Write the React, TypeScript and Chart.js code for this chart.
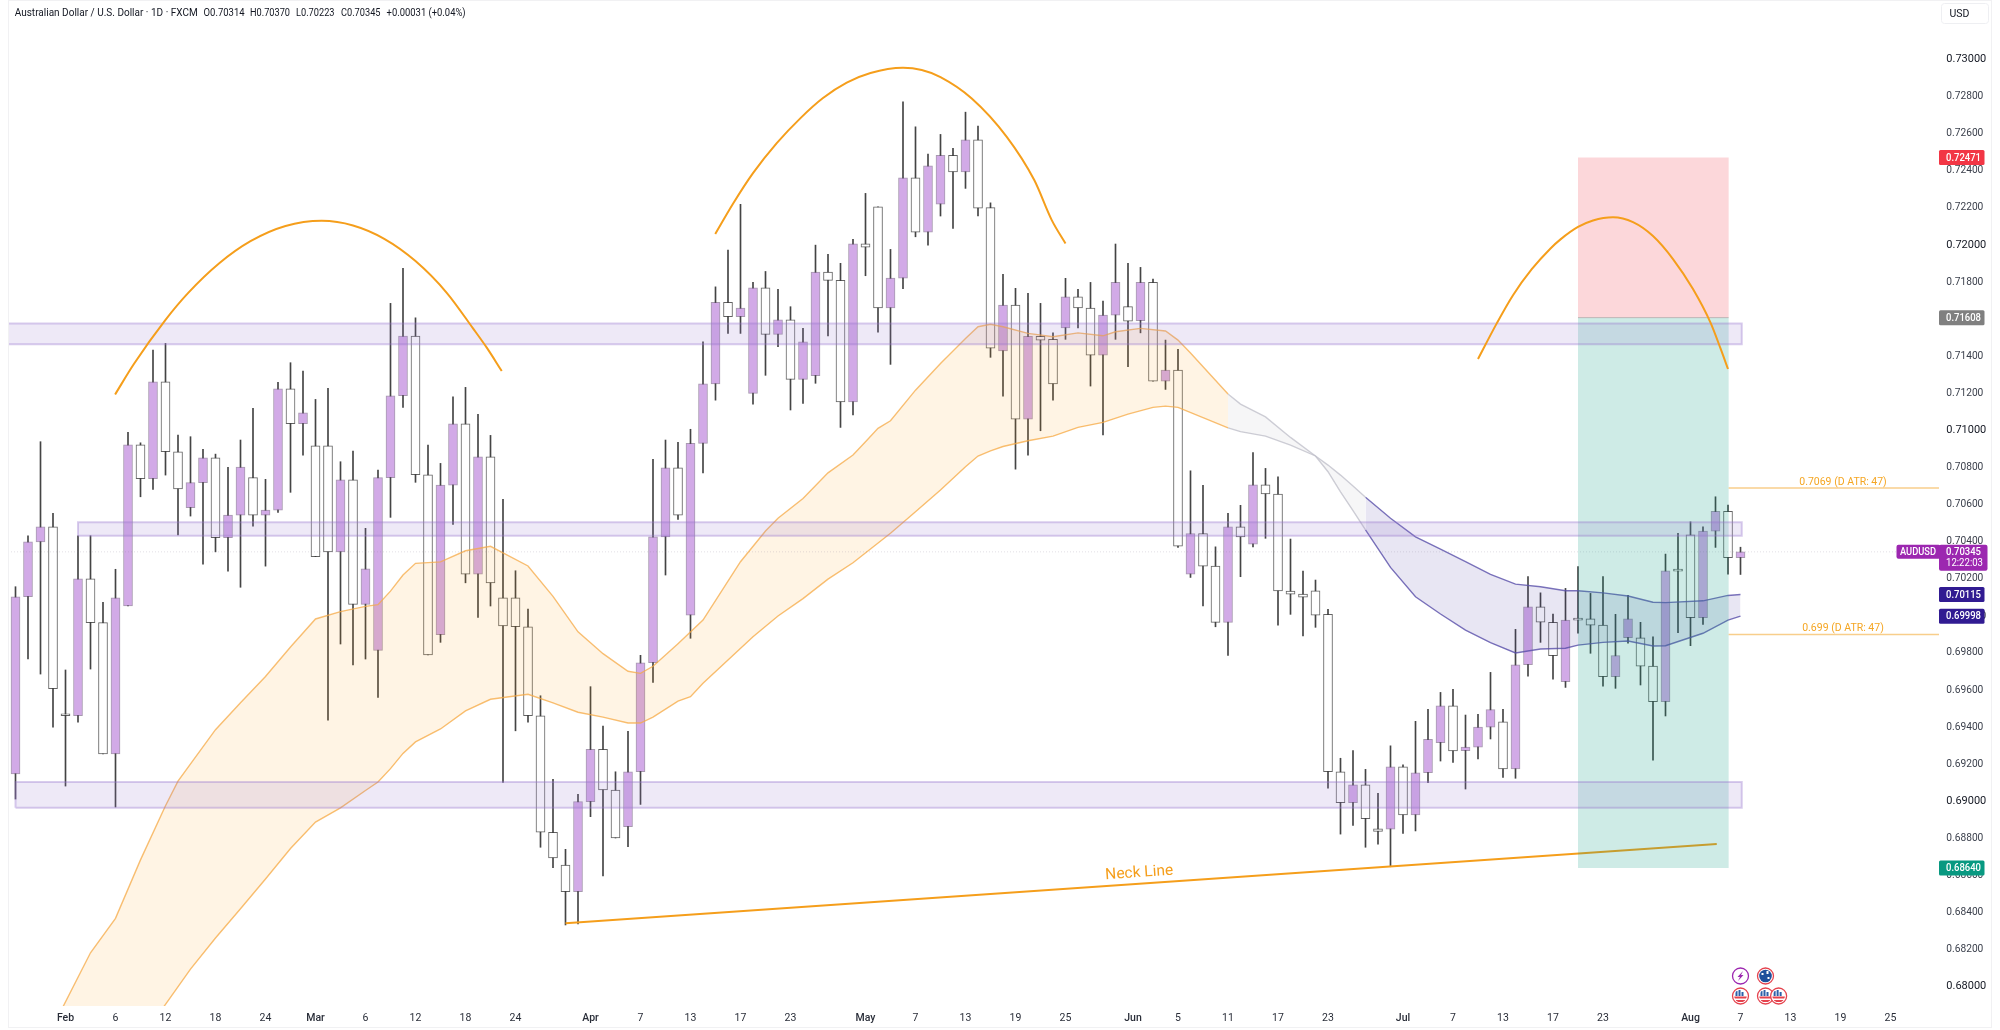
import React, { useEffect, useRef } from "react";
import { Chart, registerables } from "chart.js";

Chart.register(...registerables);

const opens = [.69147,.70103,.70399,.70480,.69461,.69461,.70200,.69963,.69255,.70054,.70922,.70739,.71262,.70885,.70583,.70718,.70852,.70421,.70543,.70745,.70543,.70570,.71224,.71036,.70917,.70917,.70344,.70734,.70062,.69814,.70745,.71187,.71509,.70761,.69898,.70705,.71036,.70224,.70858,.70097,.70097,.69941,.69461,.68833,.68656,.68512,.68998,.69280,.69061,.68863,.69159,.69747,.70426,.70798,.70004,.70930,.71251,.71690,.71613,.71200,.71769,.71518,.71596,.71275,.71295,.71854,.71809,.71154,.72006,.72206,.71661,.71821,.72362,.72069,.72220,.72483,.72394,.72567,.72201,.71429,.71676,.71061,.71507,.71491,.71552,.71720,.71660,.71406,.71622,.71667,.71591,.71798,.71266,.71325,.70224,.70443,.70268,.69965,.70480,.70387,.70707,.70657,.70134,.70117,.70135,.70008,.69159,.68992,.69089,.68852,.68850,.69186,.68927,.69154,.69316,.69515,.69273,.69292,.69400,.69429,.69174,.69736,.70049,.69965,.69645,.69985,.69984,.69950,.69672,.69882,.69882,.69729,.69537,.70248,.70437,.69990,.70457,.70563,.70314];
const closes = [.70103,.70399,.70480,.69607,.69461,.70200,.69963,.69255,.70097,.70922,.70739,.71262,.70885,.70684,.70718,.70852,.70421,.70543,.70802,.70543,.70570,.71224,.71036,.71095,.70319,.70344,.70734,.70062,.70254,.70745,.71187,.71509,.70761,.69789,.70705,.71036,.70224,.70858,.70178,.69945,.69941,.69461,.68833,.68694,.68512,.68998,.69280,.69061,.68802,.69159,.69747,.70426,.70798,.70543,.70930,.71251,.71690,.71613,.71660,.71769,.71518,.71596,.71275,.71478,.71854,.71809,.71154,.72006,.71988,.71661,.71821,.72362,.72069,.72427,.72483,.72394,.72567,.72199,.71444,.71676,.71061,.71507,.71487,.71250,.71720,.71660,.71406,.71622,.71798,.71589,.71798,.71266,.71325,.70376,.70443,.70268,.69965,.70480,.70425,.70707,.70657,.70134,.70117,.70101,.70004,.69159,.68992,.69089,.68906,.68838,.69186,.68927,.69154,.69334,.69515,.69271,.69292,.69400,.69494,.69174,.69736,.70049,.69966,.69785,.69977,.69977,.69950,.69672,.69785,.69984,.69729,.69537,.70243,.70241,.69990,.70457,.70563,.70313,.70345];
const highs = [.70157,.70432,.70939,.70553,.69708,.70432,.70432,.70073,.70251,.70989,.70933,.71433,.71469,.70975,.70966,.70898,.70872,.70801,.70948,.71119,.70736,.71259,.71365,.71320,.71167,.71227,.70831,.70888,.70472,.70786,.71685,.71874,.71607,.70921,.70822,.71181,.71232,.71086,.70973,.70628,.70243,.70037,.69569,.69118,.68741,.69037,.69618,.69406,.69159,.69377,.69787,.70844,.70948,.70935,.71006,.71478,.71774,.71972,.72219,.71798,.71857,.71760,.71667,.71550,.71999,.71949,.71901,.72030,.72278,.72206,.71976,.72772,.72637,.72490,.72596,.72521,.72716,.72641,.72227,.71841,.71766,.71739,.71685,.71526,.71820,.71760,.71798,.71697,.72005,.71901,.71879,.71816,.71487,.71437,.70782,.70704,.70372,.70553,.70596,.70881,.70795,.70750,.70414,.70241,.70193,.70035,.69232,.69273,.69172,.69043,.69299,.69197,.69431,.69496,.69587,.69604,.69465,.69469,.69695,.69496,.69927,.70211,.70124,.70010,.70148,.70265,.70121,.70211,.70008,.70110,.69965,.69887,.70333,.70445,.70507,.70480,.70642,.70597,.70370];
const lows = [.69012,.69767,.69686,.69399,.69082,.69427,.69713,.69255,.68969,.70054,.70642,.70682,.70759,.70436,.70538,.70279,.70345,.70241,.70154,.70484,.70268,.70558,.70666,.70867,.70319,.69438,.69848,.69735,.69767,.69560,.70531,.71124,.70720,.69789,.69857,.70493,.70178,.69992,.70053,.69102,.69380,.69426,.68752,.68642,.68333,.68338,.68917,.68597,.68802,.68755,.68983,.69641,.70220,.70520,.69879,.70771,.71163,.71523,.71523,.71142,.71297,.71451,.71110,.71146,.71254,.71509,.71016,.71083,.71834,.71529,.71356,.71764,.72044,.71999,.72156,.72089,.72305,.72156,.71394,.71185,.70791,.70867,.70998,.71163,.71491,.71553,.71239,.70975,.71491,.71343,.71526,.71266,.71221,.70369,.70207,.70053,.69941,.69787,.70211,.70372,.70418,.69950,.70008,.69891,.69938,.69070,.68823,.68870,.68752,.68769,.68647,.68827,.68840,.69100,.69217,.69210,.69066,.69229,.69336,.69129,.69124,.69675,.69857,.69658,.69614,.69906,.69798,.69621,.69609,.69852,.69627,.69222,.69460,.69909,.69839,.69954,.70369,.70225,.70223];

const xTickIndex = [4,8,12,16,20,24,28,32,36,40,46,50,54,58,62,68,72,76,80,84,89.4,93,97,101,105,111,115,119,123,127,134,138,142,146,150];
const xTickLabels = ["Feb","6","12","18","24","Mar","6","12","18","24","Apr","7","13","17","23","May","7","13","19","25","Jun","5","11","17","23","Jul","7","13","17","23","Aug","7","13","19","25"];
const xMonthLabels = ["Feb","Mar","Apr","May","Jun","Jul","Aug"];
const yTickValues = [.68,.682,.684,.686,.688,.69,.692,.694,.696,.698,.70,.702,.704,.706,.708,.71,.712,.714,.716,.718,.72,.722,.724,.726,.728,.73];

const amberUpperIdx = [3,6,8,10,12,13,16,18,20,22,24,26,28,29,30,31,32,34,36,38,41,43,45,47,49,50,51,53,55,58,60,61,63,65,67,68,69,70,72,74,76,77,78,79,81,83,85,87,88,90,92,93,94,97];
const amberUpper = [.67786,.68183,.68369,.68684,.68976,.69109,.69386,.69531,.69673,.69832,.69983,.70023,.70051,.70060,.70133,.70220,.70283,.70291,.70351,.70375,.70269,.70105,.69914,.69796,.69701,.69690,.69728,.69850,.69977,.70292,.70457,.70526,.70633,.70771,.70867,.70939,.71011,.71052,.71217,.71361,.71496,.71559,.71572,.71559,.71523,.71505,.71526,.71510,.71532,.71550,.71536,.71487,.71417,.71196];
const amberLowerIdx = [3,7,11,12,14,16,18,20,22,24,26,28,29,30,31,32,34,36,38,41,43,45,47,49,50,51,53,54,55,57,59,61,63,65,67,70,72,74,76,77,78,79,81,83,85,87,89,91,92,93,97];
const amberLower = [.6705,.6745,.67810,.67905,.68095,.68263,.68420,.68581,.68745,.68888,.68964,.69058,.69104,.69176,.69258,.69320,.69390,.69487,.69550,.69577,.69531,.69480,.69454,.69422,.69422,.69454,.69540,.69564,.69636,.69762,.69887,.69999,.70093,.70198,.70286,.70445,.70561,.70678,.70804,.70862,.70890,.70913,.70944,.70969,.71016,.71043,.71088,.71124,.71131,.71124,.71014];
const greyIdx = [97,98,100,102,104,105,106,107,108];
const greyUpper = [.71196,.71142,.71073,.70962,.70862,.70813,.70759,.70700,.70639];
const greyLower = [.71014,.70993,.70969,.70921,.70862,.70777,.70669,.70567,.70463];
const violetIdx = [108,110,112,114,116,118,120,122,124,125,127,129,131,132,135,137,138];
const violetUpper = [.70639,.70526,.70426,.70360,.70292,.70224,.70171,.70157,.70135,.70135,.70124,.70107,.70073,.70071,.70081,.70110,.70115];
const violetLower = [.70463,.70261,.70103,.70010,.69923,.69855,.69800,.69821,.69825,.69842,.69857,.69864,.69837,.69839,.69906,.69977,.69998];

const zoneNames = ["upper", "middle", "lower"];
const zoneStartIdx = [-5, 5, 0];
const zoneEndIdx = [138.1, 138.1, 138.1];
const zoneTop = [.71577, .70504, .69104];
const zoneBottom = [.71465, .70432, .68965];

const positionStartIdx = 125;
const positionEndIdx = 137.05;
const stopPrice = .72471;
const entryPrice = .71608;
const targetPrice = .68640;

const atrPrices = [.7069, .699];
const atrLabels = ["0.7069 (D ATR: 47)", "0.699 (D ATR: 47)"];
const lastPrice = .70345;

const arcOneIdx = [7.97,9.47,12,13.8,16.3,18.8,21.6,24.5,27,29.5,32,34.5,36.6,37.7,38.9];
const arcOne = [.71194,.71358,.71596,.71740,.71901,.72020,.72102,.72130,.72105,.72033,.71913,.71742,.71550,.71446,.71320];
const arcTwoIdx = [55.98,57.4,59,60.9,62.8,64.6,66.5,68.4,71,72.5,74,76.5,79.3,81.5,82.9,84];
const arcTwo = [.72059,.72222,.72387,.72549,.72684,.72792,.72875,.72927,.72955,.72943,.72905,.72790,.72583,.72350,.72134,.72008];
const arcThreeIdx = [117,118.5,119.8,121.3,122.8,123.6,125,126.2,127.8,129.4,131,132.6,134.2,135.6,136.4,137];
const arcThree = [.71385,.71577,.71729,.71869,.71981,.72030,.72097,.72132,.72149,.72123,.72048,.71924,.71762,.71581,.71442,.71331];
const neckIdx = [44, 136.1];
const neck = [.68342, .68769];

const tagPrices = [.72471, .71608, .70115, .69998, .68640];
const tagTexts = ["0.72471", "0.71608", "0.70115", "0.69998", "0.68640"];
const tagColors = ["#F23645", "#808080", "#311B92", "#311B92", "#089981"];

const ORANGE = "#F59E1B";
const AMBER_LINE = "rgba(245,170,70,0.75)";
const FONT = "Roboto, 'Open Sans', sans-serif";

const pts = (xs: number[], ys: number[]) => xs.map((x, i) => ({ x, y: ys[i] }));
const indexOf = (a: number[]) => a.map((_, i) => i);

const lineDs = (data: any[], color: string, width: number, order: number, extra: any = {}) => ({
  type: "line", data, borderColor: color, borderWidth: width, pointRadius: 0, pointHoverRadius: 0,
  tension: 0, fill: false, order, ...extra,
});

const rect = (x0: number, x1: number, lo: number, hi: number) => [
  { x: x0, y: lo }, { x: x0, y: hi }, { x: x1, y: hi }, { x: x1, y: lo }, { x: x0, y: lo },
];

const roundRect = (ctx: any, x: number, y: number, w: number, h: number, r: number) => {
  ctx.beginPath();
  ctx.roundRect(x, y, w, h, r);
};

const overlayPlugin = {
  id: "overlayText",
  afterDraw(chart: any) {
    const { ctx, scales } = chart;
    const X = scales.x, Y = scales.y;
    ctx.save();

    // frame
    ctx.strokeStyle = "#F1F1F3";
    ctx.lineWidth = 1;
    ctx.strokeRect(8.5, 0.5, 1983, 1027);

    // title
    ctx.fillStyle = "#131722";
    ctx.font = `10.5px ${FONT}`;
    ctx.textBaseline = "middle";
    ctx.textAlign = "left";
    const parts: [string, number, number][] = [
      ["Australian Dollar / U.S. Dollar · 1D · FXCM", 14.7, 183],
      ["O0.70314", 203.6, 41],
      ["H0.70370", 250, 40],
      ["L0.70223", 296, 38.5],
      ["C0.70345", 341, 39.5],
      ["+0.00031 (+0.04%)", 386.6, 79],
    ];
    parts.forEach(([t, x, w]) => ctx.fillText(t, x, 13, w));

    // USD button
    ctx.strokeStyle = "#EEEFF2";
    roundRect(ctx, 1941.5, 3.5, 47, 20, 3);
    ctx.stroke();
    ctx.fillStyle = "#131722";
    ctx.font = `10.5px ${FONT}`;
    ctx.fillText("USD", 1949.5, 14);

    // ATR labels
    ctx.fillStyle = "#F5A623";
    ctx.textAlign = "center";
    ctx.font = `10.5px ${FONT}`;
    atrLabels.forEach((t, i) => {
      ctx.fillText(t, 1843, Y.getPixelForValue(atrPrices[i]) - 6);
    });

    // Neck line caption
    ctx.save();
    ctx.translate(X.getPixelForValue(89.9), Y.getPixelForValue(.68613));
    ctx.rotate(-3.9 * Math.PI / 180);
    ctx.fillStyle = ORANGE;
    ctx.font = `15.5px ${FONT}`;
    ctx.fillText("Neck Line", 0, 0);
    ctx.restore();

    // price tags
    const tagLeft = X.right;
    ctx.font = `500 10.5px ${FONT}`;
    tagPrices.forEach((p, i) => {
      const y = Y.getPixelForValue(p);
      ctx.fillStyle = tagColors[i];
      roundRect(ctx, tagLeft, y - 7.5, 45.5, 15, 1.5);
      ctx.fill();
      ctx.fillStyle = "#FFFFFF";
      ctx.textAlign = "left";
      ctx.fillText(tagTexts[i], tagLeft + 7, y + 0.5, 35);
    });

    // last price tag with countdown
    const ly = Y.getPixelForValue(lastPrice);
    ctx.fillStyle = "#9C27B0";
    roundRect(ctx, tagLeft, ly - 7, 48.5, 26, 2);
    ctx.fill();
    roundRect(ctx, tagLeft - 42.5, ly - 7, 44, 14, 2);
    ctx.fill();
    ctx.fillStyle = "#FFFFFF";
    ctx.textAlign = "left";
    ctx.fillText("0.70345", tagLeft + 7, ly + 0.5, 35);
    ctx.font = `10.5px ${FONT}`;
    ctx.fillText("12:22:03", tagLeft + 7, ly + 12, 37);
    ctx.font = `500 10.5px ${FONT}`;
    ctx.fillText("AUDUSD", tagLeft - 39, ly + 0.5, 36);

    // event markers
    const drawFlag = (cx: number, cy: number, kind: string) => {
      ctx.save();
      ctx.beginPath();
      ctx.arc(cx, cy, 8, 0, Math.PI * 2);
      ctx.fillStyle = "#FFFFFF";
      ctx.fill();
      ctx.lineWidth = 1.3;
      ctx.strokeStyle = kind === "bolt" ? "#9C27B0" : "#E5434E";
      ctx.stroke();
      if (kind === "bolt") {
        ctx.fillStyle = "#9C27B0";
        ctx.beginPath();
        ctx.moveTo(cx + 2.5, cy - 5);
        ctx.lineTo(cx - 3, cy + 1);
        ctx.lineTo(cx - 0.5, cy + 1);
        ctx.lineTo(cx - 2.5, cy + 5);
        ctx.lineTo(cx + 3, cy - 1);
        ctx.lineTo(cx + 0.5, cy - 1);
        ctx.closePath();
        ctx.fill();
      } else {
        ctx.beginPath();
        ctx.arc(cx, cy, 6.3, 0, Math.PI * 2);
        ctx.clip();
        if (kind === "au") {
          ctx.fillStyle = "#1E4F9C";
          ctx.fillRect(cx - 7, cy - 7, 14, 14);
          ctx.fillStyle = "#FFFFFF";
          ctx.fillRect(cx - 4, cy - 3, 2, 2);
          ctx.fillRect(cx + 1, cy - 5, 2, 3);
          ctx.fillRect(cx + 2, cy + 1, 2, 2);
        } else {
          ctx.fillStyle = "#FFFFFF";
          ctx.fillRect(cx - 7, cy - 7, 14, 14);
          ctx.fillStyle = "#E5434E";
          ctx.fillRect(cx - 7, cy + 0.5, 14, 2);
          ctx.fillRect(cx - 7, cy + 4, 14, 2);
          ctx.fillStyle = "#2C5FA8";
          ctx.fillRect(cx - 5, cy - 5, 2, 5);
          ctx.fillRect(cx - 2, cy - 6, 2, 6);
          ctx.fillRect(cx + 1, cy - 4, 2, 4);
        }
      }
      ctx.restore();
    };
    const top = chart.chartArea.bottom - 30;
    const bot = chart.chartArea.bottom - 10;
    drawFlag(X.getPixelForValue(138), top, "bolt");
    drawFlag(X.getPixelForValue(140), top, "au");
    drawFlag(X.getPixelForValue(138), bot, "us");
    drawFlag(X.getPixelForValue(140), bot, "us");
    drawFlag(X.getPixelForValue(141.05), bot, "us");

    ctx.restore();
  },
};

export default function App() {
  const ref = useRef<HTMLCanvasElement>(null);

  useEffect(() => {
    document.body.style.margin = "0";
    document.body.style.background = "#FFFFFF";
    const idx = indexOf(opens);
    const wickData = idx.map((i) => ({ x: i, y: [lows[i], highs[i]] }));
    const bodyData = idx.map((i) => ({ x: i, y: [opens[i], closes[i]] }));
    const bodyFill = idx.map((i) => (closes[i] > opens[i] ? "#D2AAE7" : "#FFFFFF"));
    const bodyLine = idx.map((i) => (closes[i] > opens[i] ? "rgba(95,70,110,0.55)" : "rgba(60,60,60,0.8)"));

    const zoneSets = zoneNames.map((_, z) =>
      lineDs(rect(zoneStartIdx[z], zoneEndIdx[z], zoneBottom[z], zoneTop[z]), "rgba(149,117,205,0.36)", 2, 4, {
        fill: "shape",
        backgroundColor: "rgba(149,117,205,0.16)",
      })
    );
    const arcStyle = { cubicInterpolationMode: "monotone" };

    const chart = new Chart(ref.current!, {
      data: {
        datasets: [
          {
            type: "bar", data: wickData, backgroundColor: "#444444", borderWidth: 0,
            grouped: false, barThickness: 1, maxBarThickness: 1, order: 20,
          },
          {
            type: "bar", data: bodyData, backgroundColor: bodyFill, borderColor: bodyLine, borderWidth: 1,
            borderSkipped: false, grouped: false, barThickness: 9, maxBarThickness: 9, minBarLength: 2, order: 19,
          },
          lineDs(pts(amberUpperIdx, amberUpper), AMBER_LINE, 1.4, 12, { fill: "+1", backgroundColor: "rgba(255,152,0,0.105)" }),
          lineDs(pts(amberLowerIdx, amberLower), AMBER_LINE, 1.4, 12),
          lineDs(pts(greyIdx, greyUpper), "rgba(190,190,200,0.75)", 1.4, 12, { fill: "+1", backgroundColor: "rgba(170,170,180,0.11)" }),
          lineDs(pts(greyIdx, greyLower), "rgba(190,190,200,0.75)", 1.4, 12),
          lineDs(pts(violetIdx, violetUpper), "rgba(90,80,170,0.8)", 1.4, 12, { fill: "+1", backgroundColor: "rgba(63,50,160,0.12)" }),
          lineDs(pts(violetIdx, violetLower), "rgba(90,80,170,0.8)", 1.4, 12),
          lineDs([{ x: -0.6, y: lastPrice }, { x: 153.9, y: lastPrice }], "rgba(120,110,130,0.22)", 1, 11, { borderDash: [1, 2] }),
          lineDs(pts(neckIdx, neck), ORANGE, 2, 10),
          lineDs(rect(positionStartIdx, positionEndIdx, entryPrice, stopPrice), "rgba(0,0,0,0)", 0, 6, { fill: "shape", backgroundColor: "rgba(242,54,69,0.2)" }),
          lineDs(rect(positionStartIdx, positionEndIdx, targetPrice, entryPrice), "rgba(0,0,0,0)", 0, 6, { fill: "shape", backgroundColor: "rgba(8,153,129,0.2)" }),
          lineDs([{ x: positionStartIdx, y: entryPrice }, { x: positionEndIdx, y: entryPrice }], "rgba(110,120,120,0.4)", 1, 5),
          ...zoneSets,
          lineDs([{ x: positionEndIdx, y: atrPrices[0] }, { x: 154, y: atrPrices[0] }], "rgba(245,190,100,0.75)", 1.5, 3),
          lineDs([{ x: positionEndIdx, y: atrPrices[1] }, { x: 154, y: atrPrices[1] }], "rgba(245,190,100,0.75)", 1.5, 3),
          lineDs(pts(arcOneIdx, arcOne), ORANGE, 2, 2, arcStyle),
          lineDs(pts(arcTwoIdx, arcTwo), ORANGE, 2, 2, arcStyle),
          lineDs(pts(arcThreeIdx, arcThree), ORANGE, 2, 2, arcStyle),
        ] as any,
      },
      options: {
        responsive: false,
        animation: false,
        devicePixelRatio: 1,
        layout: { padding: { left: 8, top: 1, right: 0, bottom: 0 } },
        plugins: { legend: { display: false }, tooltip: { enabled: false }, title: { display: false } },
        events: [],
        scales: {
          x: {
            type: "linear",
            offset: false,
            min: -0.6,
            max: 153.88,
            grid: { display: false, drawTicks: false, offset: false },
            border: { display: false },
            afterFit: (s: any) => {
              s.height = 24;
              s.paddingLeft = 0; s.paddingRight = 0; s.paddingTop = 0; s.paddingBottom = 0;
            },
            afterBuildTicks: (s: any) => { s.ticks = xTickIndex.map((value) => ({ value })); },
            ticks: {
              autoSkip: false,
              maxRotation: 0,
              minRotation: 0,
              padding: 6,
              color: "#2A2E39",
              font: (c: any) => ({
                family: FONT,
                size: 10.5,
                weight: xMonthLabels.includes(xTickLabels[xTickIndex.indexOf(c.tick?.value)]) ? "500" : "400",
              }),
              callback: (v: any) => xTickLabels[xTickIndex.indexOf(v)] ?? "",
            },
          },
          y: {
            type: "linear",
            position: "right",
            min: 0.67896,
            max: 0.733155,
            grid: { display: false, drawTicks: false },
            border: { display: false },
            afterFit: (s: any) => {
              s.width = 61;
              s.paddingLeft = 0; s.paddingRight = 0; s.paddingTop = 0; s.paddingBottom = 0;
            },
            afterBuildTicks: (s: any) => { s.ticks = yTickValues.map((value) => ({ value })); },
            ticks: {
              autoSkip: false,
              padding: 7.3,
              crossAlign: "near",
              color: (c: any) => {
                const v = c.tick?.value ?? 0;
                return Math.abs(v * 100 - Math.round(v * 100)) < 1e-6 ? "#131722" : "#3A3F4B";
              },
              font: (c: any) => {
                const v = c.tick?.value ?? 0;
                return { family: FONT, size: Math.abs(v * 100 - Math.round(v * 100)) < 1e-6 ? 11 : 10.2 };
              },
              callback: (v: any) => Number(v).toFixed(5),
            },
          },
        },
      },
      plugins: [overlayPlugin],
    } as any);
    return () => chart.destroy();
  }, []);

  return <canvas ref={ref} width={2000} height={1030} style={{ display: "block", width: 2000, height: 1030 }} />;
}
